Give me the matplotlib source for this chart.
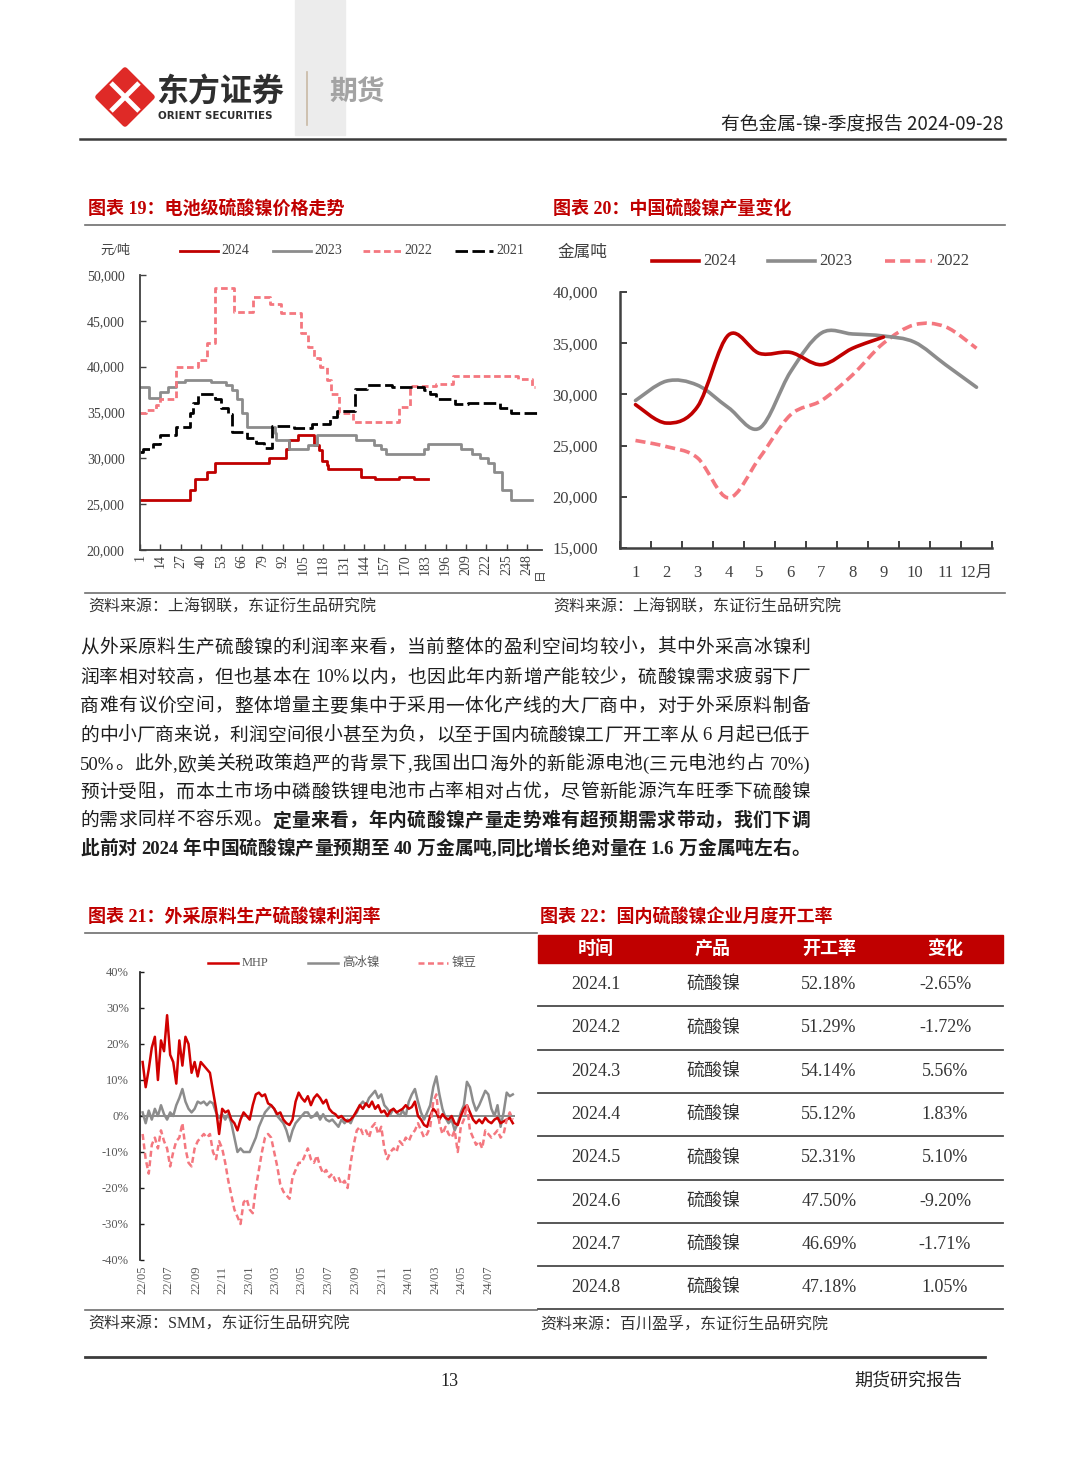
import numpy as np
import matplotlib
matplotlib.use('Agg')
import matplotlib.pyplot as plt
from matplotlib.path import Path
from matplotlib.patches import PathPatch, Rectangle, Polygon
import matplotlib.dates as mdates
import matplotlib.ticker as mticker

W, H = 1080, 1466
MIX = ['Liberation Serif', 'Noto Sans CJK SC', 'DejaVu Sans']
CJK = ['Noto Sans CJK SC', 'DejaVu Sans']
plt.rcParams['font.family'] = MIX
plt.rcParams['axes.unicode_minus'] = False

RED = '#C00000'; GRAY = '#8C8C8C'; PINK = '#F4777F'; BLACK = '#000000'
TXT = '#333333'; AX = '#404040'

# ---------------- chart 19 data (battery-grade nickel sulphate price, step breakpoints) -------------
d24 = [1, 33, 36, 44, 49, 83, 94, 96, 102, 112, 115, 117, 120, 121, 142, 151, 166, 176, 185]
v24 = [25500, 26500, 27800, 28500, 29500, 30000, 31000, 32000, 32500, 31500, 30900, 29700, 29300,
       28800, 28000, 27800, 28000, 27700, 27700]
d23 = [1, 7, 14, 19, 24, 30, 46, 56, 60, 63, 66, 69, 87, 88, 96, 108, 114, 139, 150, 155, 158, 182,
       185, 206, 213, 218, 223, 227, 232, 238, 251]
v23 = [37800, 36600, 37200, 37800, 38300, 38600, 38300, 38000, 37500, 36500, 35000, 33400, 32800,
       32000, 31000, 31500, 32500, 32000, 31500, 31000, 30500, 31000, 31600, 31000, 30500, 30000,
       29500, 28500, 26500, 25500, 25500]
d22 = [1, 5, 11, 14, 24, 38, 44, 49, 61, 73, 84, 91, 104, 108, 112, 116, 120, 123, 128, 137, 166, 173,
       190, 201, 242, 251, 253]
v22 = [35000, 35300, 35800, 36500, 40000, 40700, 42600, 48600, 46000, 47600, 46800, 45900, 43700,
       42100, 41000, 40000, 38500, 37000, 35000, 34000, 35600, 37900, 38100, 39000, 38700, 37800, 37800]
d21 = [1, 3, 9, 14, 24, 33, 35, 38, 49, 53, 57, 60, 69, 75, 80, 85, 99, 111, 122, 127, 138, 146, 162,
       182, 186, 190, 202, 210, 231, 238, 256]
v21 = [30700, 31000, 31600, 32500, 33400, 35000, 36000, 37000, 36500, 35500, 34800, 32900, 32200,
       31700, 31100, 33500, 33300, 33800, 34500, 35200, 37600, 38000, 37800, 37500, 37000, 36500,
       35900, 36000, 35500, 34900, 34900]
x19_ticks = list(range(1, 249, 13))

# ---------------- chart 20 data (monthly output, metal tonnes) -------------
months = list(range(1, 13))
month_labels = ['1', '2', '3', '4', '5', '6', '7', '8', '9', '10', '11', '12月']
out2024 = [29000, 27200, 28800, 35800, 34000, 34100, 32900, 34500, 35600]
out2023 = [29400, 31300, 30900, 28700, 26700, 32200, 36000, 35900, 35700, 35100, 32900, 30700]
out2022 = [25500, 24900, 23800, 19900, 23800, 28000, 29400, 31900, 35000, 36800, 36600, 34500]

# ---------------- chart 21 data (profit margin %, weekly) -------------
start21 = np.datetime64('2022-05-02')
mhp = [15, 8, 13, 19, 22, 10, 21, 18, 28, 17,
       15, 9, 21, 14, 22, 20, 12, 15, 11, 15,
       14, 13, 12, 7, 2, -5, 2, 1, 1.5, -1,
       -2, -4, -1, 1, 0, -1, 3, 6, 6.5, 5.5,
       6, 3.5, 3, 2, 0.5, 1, -1, -2, -2.5, -1,
       4, 6.5, 5, 4, 5.5, 3, 5, 6, 5, 3.5,
       4.5, 2, 1, 0.5, -0.5, 0, -1, -1.5, -1, 0,
       1.5, 3, 2, 3.5, 2.5, 4, 2, 3, 1, 1.5,
       0, 1.5, 2, 1, 1.5, 2, 3, 2, 2.5, 4,
       0, -1, -2.5, -3, 0, 2, 1, -1, 0.5, -0.5,
       -1, 0, -2, -2.5, 0, 2, 3, 1, -1, -2,
       -1, -2, -0.5, -1.5, -2, -1, -0.5, -2, -1.5, -1,
       -0.5, -2]
hin = [1, -2, 1.5, -1, 2, 0, 3, 0.5, -1, 1,
       0, 3, 5, 7.5, 4, 2, 1, 2, 4, 3.5,
       4, 3, 4, 3.5, 1, -0.5, 0.5, -1, 0.5, -2,
       -6, -10, -9, -10, -10, -10, -8, -6, -3, -1,
       1, 2, 3, 2, 0, -1, -2, -4, -7, -4,
       -2, -1, 0, 1, 1, -0.5, 0, 1, -1, 0.5,
       -1, -1.5, -1, -2, -3, -1, -2, -1, -2, 0,
       1, 3, 4, 3, 5, 6, 7, 5, 6, 3,
       2, 0.5, 2, 1, 0, 1.5, 0, 4, 6, 7.5,
       4, 1, -1, 1, 3, 8, 11, 6, 2, -0.5,
       -2, -1, -4, -2, 1, 3, 9.5, 8, 4, 1.5,
       3, 5, 7, 6, 2, 0, 3, -3, 1, 6.5,
       5.5, 6]
bean = [-5, -12, -16, -8, -6, -9, -4, -7, -9, -14,
        -10, -7, -6, -2, -9, -13, -14, -9, -7, -6,
        -5, -6, -5, -10, -12, -7, -9, -13, -18, -22,
        -26, -28, -30, -24, -23, -26, -27, -20, -15, -10,
        -6, -5, -6, -10, -14, -19, -21, -22, -23, -17,
        -15, -13, -13, -11, -9, -12, -13, -11, -14, -16,
        -15, -17, -16, -18, -17, -19, -18, -20, -13, -8,
        -4, -3, -5, -4, -6, -3, -2, -5, -3, -9,
        -12, -10, -9, -10, -7, -8, -6, -7, -5, -4,
        -2, -4, -6, -5, -3, 4, 6, -2, -5, -3,
        -5, -6, -4, -10, -3, -1, 3, -4, -6, -8,
        -7, -9, -4, -5, -6, -5, -4, -6, -5, -1,
        1, -1]
dates21 = start21 + np.arange(len(mhp)) * np.timedelta64(7, 'D')

# ---------------- table 22 data -------------
tbl_head = ['时间', '产品', '开工率', '变化']
tbl_time = ['2024.1', '2024.2', '2024.3', '2024.4', '2024.5', '2024.6', '2024.7', '2024.8']
tbl_prod = ['硫酸镍'] * 8
tbl_rate = ['52.18%', '51.29%', '54.14%', '55.12%', '52.31%', '47.50%', '46.69%', '47.18%']
tbl_chg = ['-2.65%', '-1.72%', '5.56%', '1.83%', '5.10%', '-9.20%', '-1.71%', '1.05%']

# ---------------- paragraph -------------
para = [
    [('从外采原料生产硫酸镍的利润率来看，当前整体的盈利空间均较小，其中外采高冰镍利', 'normal')],
    [('润率相对较高，但也基本在 10%以内，也因此年内新增产能较少，硫酸镍需求疲弱下厂', 'normal')],
    [('商难有议价空间，整体增量主要集中于采用一体化产线的大厂商中，对于外采原料制备', 'normal')],
    [('的中小厂商来说，利润空间很小甚至为负，以至于国内硫酸镍工厂开工率从 6 月起已低于', 'normal')],
    [('50%。此外,欧美关税政策趋严的背景下,我国出口海外的新能源电池(三元电池约占 70%)', 'normal')],
    [('预计受阻，而本土市场中磷酸铁锂电池市占率相对占优，尽管新能源汽车旺季下硫酸镍', 'normal')],
    [('的需求同样不容乐观。', 'normal'), ('定量来看，年内硫酸镍产量走势难有超预期需求带动，我们下调', 'bold')],
    [('此前对 2024 年中国硫酸镍产量预期至 40 万金属吨,同比增长绝对量在 1.6 万金属吨左右。', 'bold')],
]

# =====================================================================
fig = plt.figure(figsize=(W / 100, H / 100), dpi=100)
fig.patch.set_facecolor('white')
bg = fig.add_axes([0, 0, 1, 1])
bg.set_xlim(0, W); bg.set_ylim(H, 0); bg.axis('off'); bg.set_zorder(0)


def px_axes(l, t, r, b):
    a = fig.add_axes([l / W, 1 - b / H, (r - l) / W, (b - t) / H])
    a.set_facecolor('none'); a.set_zorder(2)
    return a


# ---------------- header ----------------
bg.add_patch(Rectangle((295, 0), 50, 135, color='#ececec', zorder=0))
bg.add_patch(Polygon([(125, 70), (152, 97), (125, 124), (98, 97)], closed=True,
                     facecolor='#DF2A27', edgecolor='#DF2A27', lw=4, joinstyle='round', zorder=1))
bg.plot([111, 139], [83, 111], color='white', lw=3.5, solid_capstyle='butt', zorder=2)
bg.plot([139, 111], [83, 111], color='white', lw=3.5, solid_capstyle='butt', zorder=2)
bg.text(156, 93, '东方证券', fontsize=23, fontweight='bold', color='#2E2E2E', va='center', family=CJK)
bg.text(158, 116, 'ORIENT SECURITIES', fontsize=7.4, fontweight='bold', color='#2E2E2E',
        va='center', family=['DejaVu Sans'])
bg.plot([307, 307], [72, 125], color='#C9B9A5', lw=1.2)
bg.text(329, 93, '期货', fontsize=20, fontweight='bold', color='#A3A3A3', va='center', family=CJK)
bg.text(1003, 124, '有色金属-镍-季度报告 2024-09-28', fontsize=13.5, ha='right', va='center',
        color='#222222', family=CJK)
bg.plot([80, 1005], [139, 139], color='#3C3C3C', lw=1.8)

# ---------------- titles / sources ----------------
def title(x, y, s):
    bg.text(x, y, s, color=RED, fontsize=13, fontweight='bold', va='center', family=MIX)


def source(x, y, s):
    bg.text(x, y, s, color=TXT, fontsize=11.5, va='center', family=MIX)


title(88, 210, '图表 19：电池级硫酸镍价格走势')
title(553, 210, '图表 20：中国硫酸镍产量变化')
bg.plot([85, 1005], [225, 225], color='#6E6E6E', lw=1.2)
bg.plot([85, 1005], [593, 593], color='#6E6E6E', lw=1.2)
source(88, 608, '资料来源：上海钢联，东证衍生品研究院')
source(553, 608, '资料来源：上海钢联，东证衍生品研究院')

title(88, 918, '图表 21：外采原料生产硫酸镍利润率')
title(540, 918, '图表 22：国内硫酸镍企业月度开工率')
bg.plot([85, 537], [933, 933], color='#6E6E6E', lw=1.2)
bg.plot([85, 537], [1310, 1310], color='#6E6E6E', lw=1.2)
source(88, 1325, '资料来源：SMM，东证衍生品研究院')
source(540, 1325, '资料来源：百川盈孚，东证衍生品研究院')

# ---------------- chart 19 ----------------
ax = px_axes(140, 275, 542, 550)
dash22_19 = (0, (2.4, 1.3))
dash21_19 = (0, (4.5, 1.6))
LW19 = 2.0
ax.step(d24, v24, where='post', color=RED, lw=LW19)
ax.step(d23, v23, where='post', color=GRAY, lw=LW19)
ax.step(d22, v22, where='post', color=PINK, lw=LW19, ls=dash22_19)
ax.step(d21, v21, where='post', color=BLACK, lw=LW19, ls=dash21_19)
ax.set_xlim(1, 257.5); ax.set_ylim(20000, 50000)
ax.set_xticks(x19_ticks)
ax.set_xticklabels([str(t) for t in x19_ticks], rotation=90)
ax.set_yticks(range(20000, 50001, 5000))
ax.yaxis.set_major_formatter(mticker.FuncFormatter(lambda v, p: f'{int(v):,}'))
for s in ['top', 'right']:
    ax.spines[s].set_visible(False)
for s in ['left', 'bottom']:
    ax.spines[s].set_color(AX); ax.spines[s].set_linewidth(1.3)
ax.tick_params(axis='both', direction='in', length=4, width=1, color=AX, labelsize=10, labelcolor=AX)
ax.tick_params(axis='y', pad=11)
ax.tick_params(axis='x', pad=3)
bg.text(539, 574, '日', rotation=90, fontsize=8.5, family=CJK, color=AX, ha='center', va='center')
# legend
bg.text(100, 251, '元/吨', fontsize=9.5, color=AX, va='center', family=MIX)
leg19 = [(180, RED, '-', '2024'), (273, GRAY, '-', '2023'), (363, PINK, dash22_19, '2022'),
         (455, BLACK, dash21_19, '2021')]
for x0, c, ls, lab in leg19:
    bg.plot([x0, x0 + 38], [251, 251], color=c, lw=LW19, ls=ls)
    bg.text(x0 + 41, 251, lab, fontsize=10, color=AX, va='center')

# ---------------- chart 20 ----------------
ax2 = px_axes(620, 292, 992, 548)


def smooth_path(xs, ys):
    pts = list(zip(xs, ys))
    verts = [pts[0]]; codes = [Path.MOVETO]
    n = len(pts)
    for i in range(n - 1):
        p0 = pts[i - 1] if i > 0 else pts[i]
        p1 = pts[i]; p2 = pts[i + 1]
        p3 = pts[i + 2] if i + 2 < n else pts[i + 1]
        c1 = (p1[0] + (p2[0] - p0[0]) / 6, p1[1] + (p2[1] - p0[1]) / 6)
        c2 = (p2[0] - (p3[0] - p1[0]) / 6, p2[1] - (p3[1] - p1[1]) / 6)
        verts += [c1, c2, p2]; codes += [Path.CURVE4] * 3
    return Path(verts, codes)


dash20 = (0, (2.8, 1.4))
ax2.add_patch(PathPatch(smooth_path(months[:len(out2022)], out2022), fill=False,
                        edgecolor=PINK, lw=2.6, ls=dash20, capstyle='butt'))
ax2.add_patch(PathPatch(smooth_path(months[:len(out2023)], out2023), fill=False,
                        edgecolor=GRAY, lw=2.6, capstyle='round'))
ax2.add_patch(PathPatch(smooth_path(months[:len(out2024)], out2024), fill=False,
                        edgecolor=RED, lw=2.6, capstyle='round'))
ax2.set_xlim(0.5, 12.5); ax2.set_ylim(15000, 40000)
ax2.set_xticks(months)
ax2.set_xticklabels(month_labels)
ax2.set_xticks([m + 0.5 for m in range(0, 13)], minor=True)
ax2.set_yticks(range(15000, 40001, 5000))
ax2.yaxis.set_major_formatter(mticker.FuncFormatter(lambda v, p: f'{int(v):,}'))
for s in ['top', 'right']:
    ax2.spines[s].set_visible(False)
for s in ['left', 'bottom']:
    ax2.spines[s].set_color(AX); ax2.spines[s].set_linewidth(1.8)
ax2.tick_params(axis='x', which='major', length=0, pad=12, labelsize=12, labelcolor=AX)
ax2.tick_params(axis='x', which='minor', direction='in', length=5, width=1.4, color=AX)
ax2.tick_params(axis='y', direction='in', length=5, width=1.4, color=AX, labelsize=12,
                labelcolor=AX, pad=16)
for lbl in ax2.get_xticklabels():
    lbl.set_family(MIX)
bg.text(558, 253, '金属吨', fontsize=12, color=AX, va='center', family=MIX)
leg20 = [(652, RED, '-', '2024'), (768, GRAY, '-', '2023'), (885, PINK, dash20, '2022')]
for x0, c, ls, lab in leg20:
    bg.plot([x0, x0 + 47], [261, 261], color=c, lw=2.6, ls=ls)
    bg.text(x0 + 51, 261, lab, fontsize=12, color=AX, va='center')

# ---------------- chart 21 ----------------
ax3 = px_axes(140, 972, 515, 1260)
dash21 = (0, (2.4, 1.4))
LW21 = 1.8
ax3.axhline(0, color='#7F7F7F', lw=1.3, zorder=1)
ax3.plot(dates21, mhp, color='#D00000', lw=LW21, zorder=3)
ax3.plot(dates21, hin, color=GRAY, lw=LW21, zorder=2)
ax3.plot(dates21, bean, color=PINK, lw=LW21, ls=dash21, zorder=4)
ax3.set_xlim(np.datetime64('2022-04-26'), np.datetime64('2024-08-31'))
ax3.set_ylim(-40, 40)
ax3.set_yticks(range(-40, 41, 10))
ax3.yaxis.set_major_formatter(mticker.FuncFormatter(lambda v, p: f'{int(v)}%'))
ax3.xaxis.set_major_locator(mdates.MonthLocator(bymonth=(1, 3, 5, 7, 9, 11)))
ax3.xaxis.set_major_formatter(mdates.DateFormatter('%y/%m'))
for s in ['top', 'right', 'bottom']:
    ax3.spines[s].set_visible(False)
ax3.spines['left'].set_color('#1a1a1a'); ax3.spines['left'].set_linewidth(1.2)
ax3.tick_params(axis='x', length=0, pad=4, labelsize=9, labelcolor='#595959', labelrotation=90)
ax3.tick_params(axis='y', direction='in', length=3, width=1, color='#1a1a1a', labelsize=9,
                labelcolor='#595959', pad=8)
leg21 = [(208, '#D00000', '-', 'MHP'), (308, GRAY, '-', '高冰镍'), (418, PINK, dash21, '镍豆')]
for x0, c, ls, lab in leg21:
    bg.plot([x0, x0 + 30], [963, 963], color=c, lw=LW21, ls=ls)
    bg.text(x0 + 34, 963, lab, fontsize=9, color='#595959', va='center', family=MIX)

# ---------------- table 22 ----------------
tx0, tx1 = 538, 1003
col_x = [596, 713, 829, 945]
bg.add_patch(Rectangle((tx0, 935), tx1 - tx0, 28, color=RED, zorder=1))
for cx, h in zip(col_x, tbl_head):
    bg.text(cx, 949, h, fontsize=13, fontweight='bold', color='white', ha='center', va='center',
            family=MIX, zorder=3)
row_top = 963.0
row_h = 43.3
for i in range(len(tbl_time)):
    yc = row_top + row_h * (i + 0.5)
    for cx, val in zip(col_x, [tbl_time[i], tbl_prod[i], tbl_rate[i], tbl_chg[i]]):
        bg.text(cx, yc, val, fontsize=13, color=TXT, ha='center', va='center', family=MIX)
    ysep = row_top + row_h * (i + 1)
    bg.plot([tx0, tx1], [ysep, ysep], color='#4A4A4A', lw=1.3)

# ---------------- paragraph (justified) ----------------
renderer = fig.canvas.get_renderer()
PFS = 13.5
space_w = PFS * 100 / 72 * 0.25
line_y = [648, 678, 707, 736, 765, 793, 821, 849]
for y, segs in zip(line_y, para):
    toks = []
    for s, wt in segs:
        run = ''
        for ch in s:
            if ch == ' ':
                if run:
                    toks.append((run, wt)); run = ''
                toks.append((' ', wt))
            elif ord(ch) < 128:
                run += ch
            else:
                if run:
                    toks.append((run, wt)); run = ''
                toks.append((ch, wt))
        if run:
            toks.append((run, wt))
    items = []
    for t, wt in toks:
        if t == ' ':
            items.append((None, space_w))
        else:
            tt = bg.text(0, y, t, fontsize=PFS, fontweight=wt, color='#1E1E1E', va='center',
                         ha='left', family=MIX)
            items.append((tt, tt.get_window_extent(renderer).width))
    total = sum(w for _, w in items)
    gap = (810 - 80 - total) / (len(items) - 1)
    x = 80.0
    for tt, w in items:
        if tt is not None:
            tt.set_x(x)
        x += w + gap

# ---------------- footer ----------------
bg.plot([85, 985], [1357, 1357], color='#3C3C3C', lw=2)
bg.text(449, 1381, '13', ha='center', va='center', fontsize=13, color='#222222')
bg.text(962, 1381, '期货研究报告', ha='right', va='center', fontsize=13, color='#222222', family=CJK)

fig.savefig('out.png', dpi=100, facecolor='white')
